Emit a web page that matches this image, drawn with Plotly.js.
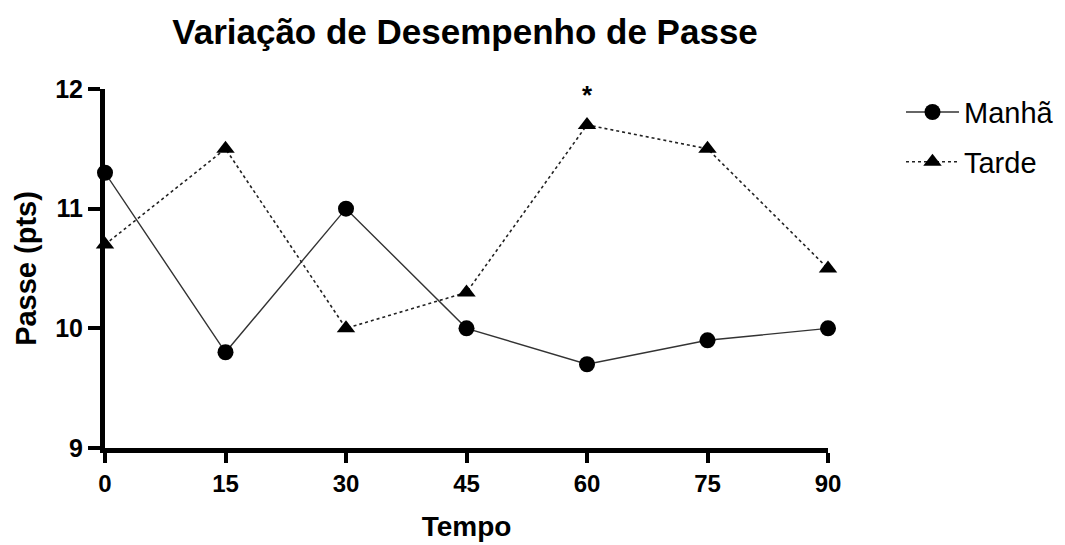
<!DOCTYPE html>
<html><head><meta charset="utf-8">
<script src="https://cdn.plot.ly/plotly-3.0.1.min.js"></script>
<style>body{margin:0;background:#fff}#c{width:1065px;height:545px}</style>
</head><body><div id="c"></div>
<script>
const tempo = [0, 15, 30, 45, 60, 75, 90];
const manha = [11.3, 9.8, 11.0, 10.0, 9.7, 9.9, 10.0];
const tarde = [10.7, 11.5, 10.0, 10.3, 11.7, 11.5, 10.5];
const xTicks = [0, 15, 30, 45, 60, 75, 90];
const yTicks = [9, 10, 11, 12];
const sigX = 60, sigLabel = "*";

const F = "Liberation Sans, Arial, sans-serif";
const traces = [
  {x: tempo, y: manha, name: "Manhã", legendgroup: "a", mode: "lines+markers", cliponaxis: false,
   line: {color: "#333", width: 1.4}, marker: {symbol: "circle", size: 16, color: "#000"}},
  {x: tempo, y: tarde, name: "Tarde", legendgroup: "b", mode: "lines+markers", cliponaxis: false,
   line: {color: "#222", width: 1.6, dash: "dot"}, marker: {symbol: "triangle-up", size: 16, color: "#000"}}
];
const layout = {
  width: 1065, height: 545,
  margin: {l: 105, r: 237, t: 89, b: 97, autoexpand: false},
  paper_bgcolor: "#fff", plot_bgcolor: "#fff",
  title: {text: "<b>Variação de Desempenho de Passe</b>", x: 0.498, xref: "paper", y: 0.941, yanchor: "middle",
          font: {family: F, size: 35, color: "#000"}},
  xaxis: {range: [0, 90], tickvals: xTicks, ticktext: xTicks.map(v => "<b>" + v + "</b>"),
          showgrid: false, zeroline: false, showline: true, linewidth: 5, linecolor: "#000",
          ticks: "outside", ticklen: 10, tickwidth: 4, tickcolor: "#000",
          tickfont: {family: F, size: 24, color: "#000"},
          title: {text: "<b>Tempo</b>", font: {family: F, size: 28, color: "#000"}, standoff: 22}},
  yaxis: {range: [9, 12], tickvals: yTicks, ticktext: yTicks.map(v => "<b>" + v + "</b>"),
          showgrid: false, zeroline: false, showline: true, linewidth: 5, linecolor: "#000",
          ticks: "outside", ticklen: 12, tickwidth: 4, tickcolor: "#000",
          tickfont: {family: F, size: 25, color: "#000"},
          title: {text: "<b>Passe (pts)</b>", font: {family: F, size: 29, color: "#000"}, standoff: 12}},
  legend: {xref: "container", yref: "container", x: 0.846, y: 0.841, xanchor: "left", yanchor: "top",
           font: {family: F, size: 29, color: "#000"},
           traceorder: "grouped", tracegroupgap: 9, itemwidth: 53, bgcolor: "rgba(0,0,0,0)"},
  annotations: [{x: sigX, y: tarde[tempo.indexOf(sigX)], xref: "x", yref: "y", text: "<b>" + sigLabel + "</b>",
                 showarrow: false, yshift: 30, font: {family: F, size: 26, color: "#000"}}]
};
Plotly.newPlot("c", traces, layout, {displayModeBar: false, staticPlot: true});
</script></body></html>
